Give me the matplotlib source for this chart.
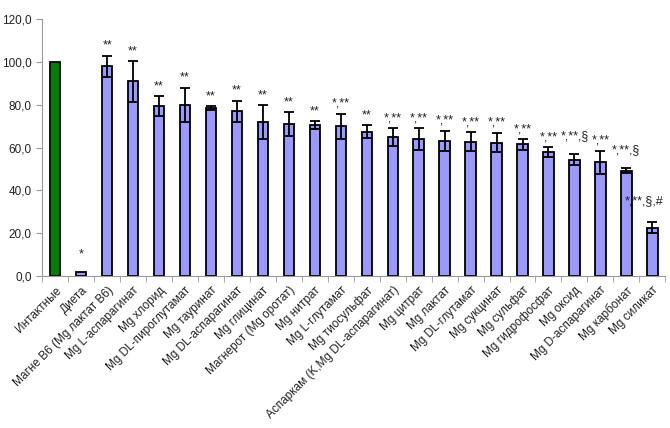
import matplotlib.pyplot as plt
import numpy as np

plt.rcParams['font.family'] = ['Liberation Sans', 'DejaVu Sans']

categories = ['Интактные', 'Диета', 'Магне В6 (Mg лактат В6)', 'Mg L-аспарагинат',
              'Mg хлорид', 'Mg DL-пироглутамат', 'Mg тауринат', 'Mg DL-аспарагинат',
              'Mg глицинат', 'Магнерот (Mg оротат)', 'Mg нитрат', 'Mg L-глутамат',
              'Mg тиосульфат', 'Аспаркам (K,Mg DL-аспарагинат)', 'Mg цитрат', 'Mg лактат',
              'Mg DL-глутамат', 'Mg сукцинат', 'Mg сульфат', 'Mg гидрофосфат',
              'Mg оксид', 'Mg D-аспарагинат', 'Mg карбонат', 'Mg силикат']
values = [100.0, 2.0, 98.0, 91.0, 79.5, 80.0, 78.5, 77.0, 72.0, 71.0, 70.5, 70.0,
          67.5, 65.0, 64.0, 63.2, 62.8, 62.4, 61.6, 58.0, 54.4, 53.2, 49.3, 22.5]
errors = [0.0, 0.0, 5.0, 9.5, 4.5, 8.0, 1.0, 5.0, 8.0, 5.5, 2.0, 5.8,
          3.0, 4.0, 5.0, 4.8, 4.4, 4.6, 2.5, 2.2, 2.5, 5.4, 1.1, 2.6]
marks = ['', '*', '**', '**', '**', '**', '**', '**', '**', '**', '**', '*,**',
         '**', '*,**', '*,**', '*,**', '*,**', '*,**', '*,**', '*,**',
         '*,**,§', '*,**', '*,**,§', '*,**,§,#']

x = np.arange(len(categories))
colors = ['#008000'] + ['#9999ff'] * (len(categories) - 1)

fig = plt.figure(figsize=(6.7, 4.28), dpi=100)
ax = fig.add_axes([0.063, 0.355, 0.93, 0.6])

ax.bar(x, values, width=0.4, color=colors, edgecolor='black', linewidth=1.3, zorder=2)
err_x = [i for i in x if errors[i] > 0]
ax.errorbar(err_x, [values[i] for i in err_x], yerr=[errors[i] for i in err_x],
            fmt='none', ecolor='black', elinewidth=1.3, capsize=3.5, capthick=1.3, zorder=3)

# подписи значимости над столбцами
for i, m in enumerate(marks):
    if not m:
        continue
    top = values[i] + errors[i]
    dx, dy = 0, 1.8
    if i == 1:
        dy = 5.5
    if m == '*,**,§':
        dy = 5.5
    if i == len(marks) - 1:
        dx, dy = -0.3, 7
    ax.text(x[i] + dx, top + dy, m, ha='center', va='bottom', fontsize=9, color='#222222')

ax.set_xlim(-0.5, len(categories) - 0.5)
ax.set_ylim(0, 120)
ax.set_yticks(np.arange(0, 121, 20))
ax.set_yticklabels([f'{v:.1f}'.replace('.', ',') for v in np.arange(0, 121, 20)],
                   fontsize=8.5, color='#222222')
ax.set_xticks(x)
ax.set_xticklabels(categories, rotation=45, ha='right', rotation_mode='anchor',
                   fontsize=8.5, color='#222222')
ax.tick_params(axis='x', length=0, pad=6)
ax.set_xticks(np.arange(-0.5, len(categories), 1), minor=True)
ax.tick_params(axis='x', which='minor', length=4, color='#999999')
ax.tick_params(axis='y', length=4, color='#999999')

for s in ['top', 'right']:
    ax.spines[s].set_visible(False)
for s in ['left', 'bottom']:
    ax.spines[s].set_color('#999999')

fig.savefig('out.png', dpi=100)
